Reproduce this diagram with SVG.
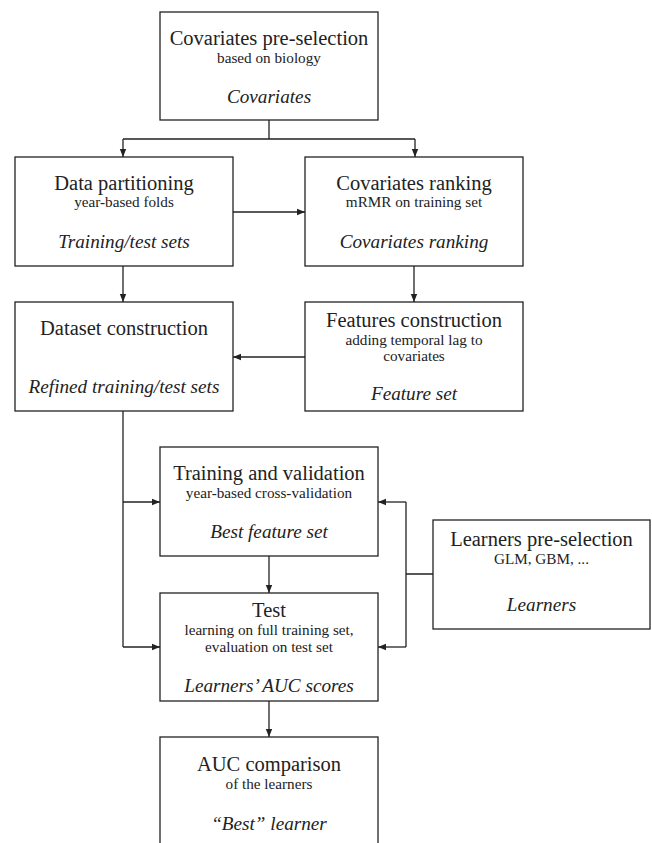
<svg xmlns="http://www.w3.org/2000/svg" width="652" height="843" viewBox="0 0 652 843">
<defs>
<marker id="ah" viewBox="0 0 10 10" refX="10" refY="5" markerWidth="8" markerHeight="8" markerUnits="userSpaceOnUse" orient="auto">
<path d="M0,1 L10,5 L0,9 z" fill="#222"/>
</marker>
<style>
.box{fill:#fff;stroke:#222;stroke-width:1.3}
text{fill:#222;text-anchor:middle}
.t{font-size:20.5px}
.s{font-size:15.2px}
.i{font-size:19.2px;font-style:italic}
.c{fill:none;stroke:#222;stroke-width:1.3}
.a{fill:none;stroke:#222;stroke-width:1.3;marker-end:url(#ah)}
</style>
</defs>
<rect width="652" height="843" fill="#fff"/>
<g id="connectors">
<path class="c" d="M269,120 V139 M123,139 H415"/>
<path class="a" d="M123,139 V157"/>
<path class="a" d="M415,139 V157"/>
<path class="a" d="M233,212 H305"/>
<path class="a" d="M123,266 V302"/>
<path class="a" d="M414,266 V302"/>
<path class="a" d="M305,357 H233"/>
<path class="c" d="M123,411 V647"/>
<path class="a" d="M123,502 H160"/>
<path class="a" d="M123,647 H160"/>
<path class="c" d="M433,574 H406 M406,502 V647"/>
<path class="a" d="M406,502 H378"/>
<path class="a" d="M406,647 H378"/>
<path class="a" d="M269,556 V593"/>
<path class="a" d="M269,701 V737"/>
</g>
<g font-family="Liberation Serif, DejaVu Serif, serif">
<g id="covariates-preselection">
<rect class="box" x="160" y="12" width="218" height="108"/>
<text class="t" x="269" y="45">Covariates pre-selection</text>
<text class="s" x="269" y="63">based on biology</text>
<text class="i" x="269" y="103">Covariates</text>
</g>
<g id="data-partitioning">
<rect class="box" x="15" y="157" width="218" height="109"/>
<text class="t" x="124" y="190">Data partitioning</text>
<text class="s" x="124" y="207">year-based folds</text>
<text class="i" x="124" y="248">Training/test sets</text>
</g>
<g id="covariates-ranking">
<rect class="box" x="305" y="157" width="218" height="109"/>
<text class="t" x="414" y="190">Covariates ranking</text>
<text class="s" x="414" y="207">mRMR on training set</text>
<text class="i" x="414" y="248">Covariates ranking</text>
</g>
<g id="dataset-construction">
<rect class="box" x="15" y="302" width="218" height="109"/>
<text class="t" x="124" y="335">Dataset construction</text>
<text class="i" x="124" y="393">Refined training/test sets</text>
</g>
<g id="features-construction">
<rect class="box" x="305" y="302" width="218" height="109"/>
<text class="t" x="414" y="327">Features construction</text>
<text class="s" x="414" y="345">adding temporal lag to</text>
<text class="s" x="414" y="361">covariates</text>
<text class="i" x="414" y="400">Feature set</text>
</g>
<g id="training-validation">
<rect class="box" x="160" y="447" width="218" height="109"/>
<text class="t" x="269" y="480">Training and validation</text>
<text class="s" x="269" y="498">year-based cross-validation</text>
<text class="i" x="269" y="538">Best feature set</text>
</g>
<g id="test">
<rect class="box" x="160" y="593" width="218" height="108"/>
<text class="t" x="269" y="617">Test</text>
<text class="s" x="269" y="635">learning on full training set,</text>
<text class="s" x="269" y="652">evaluation on test set</text>
<text class="i" x="269" y="692">Learners’ AUC scores</text>
</g>
<g id="learners-preselection">
<rect class="box" x="433" y="520" width="217" height="109"/>
<text class="t" x="541.5" y="546">Learners pre-selection</text>
<text class="s" x="541.5" y="564">GLM, GBM, ...</text>
<text class="i" x="541.5" y="611">Learners</text>
</g>
<g id="auc-comparison">
<rect class="box" x="160" y="737" width="218" height="120"/>
<text class="t" x="269" y="771">AUC comparison</text>
<text class="s" x="269" y="789">of the learners</text>
<text class="i" x="269" y="830">“Best” learner</text>
</g>
</g>
</svg>
